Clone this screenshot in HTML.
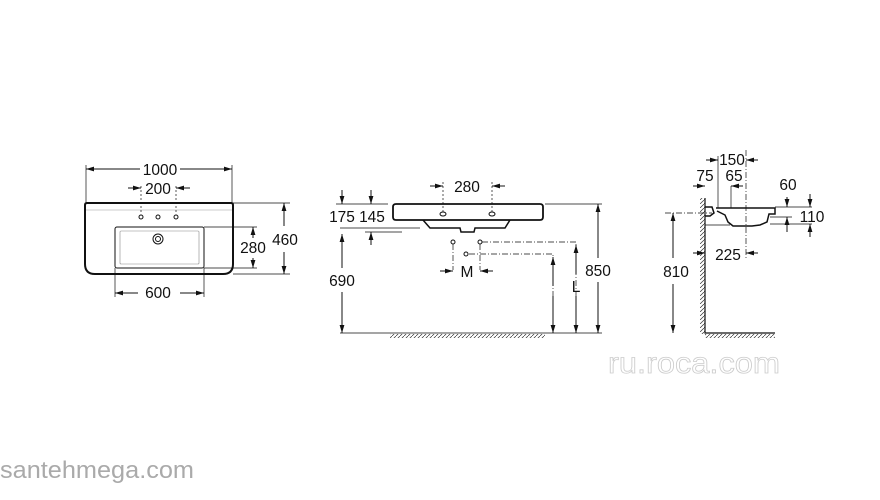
<!DOCTYPE html>
<html><head><meta charset="utf-8"><style>
html,body{margin:0;padding:0;background:#fff;width:880px;height:500px;overflow:hidden}
svg{display:block}
text{font-family:"Liberation Sans",sans-serif}
</style></head><body>
<svg width="880" height="500" viewBox="0 0 880 500" xmlns="http://www.w3.org/2000/svg">
<defs>
<marker id="a" viewBox="0 0 10 6" refX="10" refY="3" markerWidth="8" markerHeight="5" orient="auto-start-reverse" markerUnits="userSpaceOnUse"><path d="M0,0L10,3L0,6z" fill="#111"/></marker>
<pattern id="h" width="4" height="4" patternUnits="userSpaceOnUse"><path d="M0,4L4,0" stroke="#333" stroke-width="0.7"/></pattern>
</defs>
<g stroke="#111" stroke-width="1" fill="none">
<!-- LEFT: top view -->
<path d="M85,205 Q85,203 87,203 L231,203 Q233,203 233,205 L233,264 Q233,274 223,274 L95,274 Q85,274 85,264 Z" stroke-width="2"/>
<path d="M86,210 L232,210" stroke="#999" stroke-width="0.6"/>
<rect x="115" y="227" width="89" height="41" rx="2"/>
<rect x="120" y="231" width="79" height="33" rx="1" stroke="#888" stroke-width="0.6"/>
<circle cx="158" cy="239" r="5"/><circle cx="158" cy="239" r="2.5"/>
<circle cx="141" cy="217" r="2"/><circle cx="158" cy="217" r="2"/><circle cx="176" cy="217" r="2"/>
<path d="M86,165V203M232,165V203" stroke-width="0.7"/>
<line x1="140" y1="169" x2="86" y2="169" marker-end="url(#a)"/>
<line x1="180" y1="169" x2="232" y2="169" marker-end="url(#a)"/>
<path d="M141,186V214M176,186V214" stroke-dasharray="2,2" stroke-width="0.7"/>
<line x1="128" y1="188" x2="141" y2="188" marker-end="url(#a)"/>
<line x1="190" y1="188" x2="176" y2="188" marker-end="url(#a)"/>
<path d="M204,227H257M204,268H257M233,203H290M233,274H290M115,268V297M204,268V297" stroke-width="0.7"/>
<line x1="253" y1="238" x2="253" y2="227" marker-end="url(#a)"/>
<line x1="253" y1="258" x2="253" y2="268" marker-end="url(#a)"/>
<line x1="284" y1="226" x2="284" y2="203" marker-end="url(#a)"/>
<line x1="284" y1="252" x2="284" y2="274" marker-end="url(#a)"/>
<line x1="138" y1="293" x2="115" y2="293" marker-end="url(#a)"/>
<line x1="180" y1="293" x2="204" y2="293" marker-end="url(#a)"/>

<!-- MIDDLE: front view -->
<path d="M396,204 L540,204 Q543,204 543,207 L543,217 Q543,220 540,220 L396,220 Q393,220 393,217 L393,207 Q393,204 396,204Z" stroke-width="1.8"/>
<path d="M423,220 L430,228 L460,228 L461,232 L474,232 L475,228 L505,228 L510,220" stroke-width="1.5"/>
<ellipse cx="443" cy="214" rx="3" ry="2"/><ellipse cx="492" cy="214" rx="3" ry="2"/>
<path d="M443,182V212M492,182V212" stroke-dasharray="2,2" stroke-width="0.7"/>
<line x1="430" y1="186" x2="443" y2="186" marker-end="url(#a)"/>
<line x1="505" y1="186" x2="492" y2="186" marker-end="url(#a)"/>
<path d="M336,204H388M340,228H420M365,232H402M545,204H602M340,333H602" stroke-width="0.7"/>
<line x1="342" y1="190" x2="342" y2="204" marker-end="url(#a)"/>
<line x1="371" y1="190" x2="371" y2="204" marker-end="url(#a)"/>
<line x1="371" y1="245" x2="371" y2="232" marker-end="url(#a)"/>
<line x1="342" y1="268" x2="342" y2="234" marker-end="url(#a)"/>
<line x1="342" y1="292" x2="342" y2="333" marker-end="url(#a)"/>
<line x1="598" y1="258" x2="598" y2="204" marker-end="url(#a)"/>
<line x1="598" y1="282" x2="598" y2="333" marker-end="url(#a)"/>
<g stroke-width="0.7" stroke-dasharray="6,2,1,2">
<path d="M482,242H576V333M469,254H553V333M453,244V270M480,244V270"/>
</g>
<circle cx="453" cy="242" r="2"/><circle cx="480" cy="242" r="2"/><circle cx="466" cy="254" r="2"/>
<line x1="440" y1="271" x2="453" y2="271" marker-end="url(#a)"/>
<line x1="493" y1="271" x2="480" y2="271" marker-end="url(#a)"/>
<line x1="576" y1="274" x2="576" y2="245" marker-end="url(#a)"/>
<line x1="576" y1="296" x2="576" y2="333" marker-end="url(#a)"/>
<line x1="553" y1="286" x2="553" y2="257" marker-end="url(#a)"/>
<line x1="553" y1="296" x2="553" y2="333" marker-end="url(#a)"/>
<rect x="390" y="334" width="155" height="4" fill="url(#h)" stroke="none"/>

<!-- RIGHT: side view -->
<rect x="700" y="198" width="5" height="136" fill="url(#h)" stroke="none"/>
<path d="M705,198V333H775" stroke-width="1.2"/>
<rect x="705" y="334" width="70" height="4" fill="url(#h)" stroke="none"/>
<path d="M705,207 L712,207 L714,213 L710,216 L705,216 M716,208 L775,208 L775,214 L769,214 L767,222 L760,225 L752,226 L733,226 L728,222 L725,215 L717,211" stroke-width="1.5"/>
<path d="M705,225H730" stroke-width="0.7"/>
<path d="M665,213H712" stroke-dasharray="6,2,1,2" stroke-width="0.7"/>
<path d="M746,150V260" stroke-dasharray="6,2,1,2" stroke-width="0.7"/>
<path d="M718,156V208M731,186V208M775,207H812M770,217H792M770,224H812" stroke-width="0.7"/>
<line x1="706" y1="160" x2="718" y2="160" marker-end="url(#a)"/>
<line x1="758" y1="160" x2="746" y2="160" marker-end="url(#a)"/>
<line x1="693" y1="186" x2="705" y2="186" marker-end="url(#a)"/>
<line x1="743" y1="186" x2="731" y2="186" marker-end="url(#a)"/>
<line x1="787" y1="197" x2="787" y2="207" marker-end="url(#a)"/>
<line x1="787" y1="232" x2="787" y2="217" marker-end="url(#a)"/>
<line x1="810" y1="194" x2="810" y2="207" marker-end="url(#a)"/>
<line x1="810" y1="237" x2="810" y2="224" marker-end="url(#a)"/>
<line x1="693" y1="253" x2="705" y2="253" marker-end="url(#a)"/>
<line x1="758" y1="253" x2="746" y2="253" marker-end="url(#a)"/>
<line x1="673" y1="258" x2="673" y2="213" marker-end="url(#a)"/>
<line x1="673" y1="284" x2="673" y2="333" marker-end="url(#a)"/>
</g>
<g font-size="15.5" text-anchor="middle" fill="#111">
<text x="160" y="175">1000</text>
<text x="158" y="194">200</text>
<text x="253" y="253">280</text>
<text x="285" y="245">460</text>
<text x="158" y="298">600</text>
<text x="467" y="192">280</text>
<text x="342" y="222">175</text>
<text x="372" y="222">145</text>
<text x="342" y="286">690</text>
<text x="467" y="277">M</text>
<text x="576" y="292">L</text>
<text x="598" y="276">850</text>
<text x="732" y="165">150</text>
<text x="705" y="181">75</text>
<text x="734" y="181">65</text>
<text x="788" y="190">60</text>
<text x="812" y="222">110</text>
<text x="728" y="260">225</text>
<text x="676" y="277">810</text>
</g>
<text x="608" y="373" font-size="30" textLength="172" lengthAdjust="spacingAndGlyphs" style="fill:#fff;stroke:#ccc;stroke-width:0.8">ru.roca.com</text>
<text x="0" y="478" font-size="24" textLength="194" lengthAdjust="spacingAndGlyphs" style="fill:#aaa">santehmega.com</text>
</svg>
</body></html>
